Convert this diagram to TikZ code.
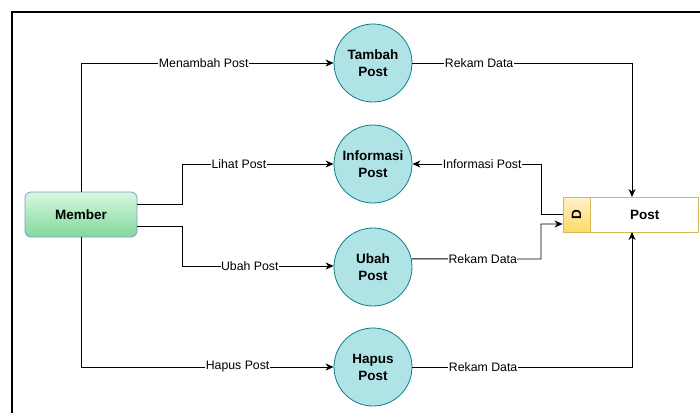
\documentclass[tikz,border=0pt]{standalone}
\usepackage{fontspec}
\setmainfont{Liberation Sans}
\usetikzlibrary{calc,arrows.meta,positioning}
\definecolor{procfill}{HTML}{B0E3E6}
\definecolor{procline}{HTML}{0E8088}
\definecolor{entline}{HTML}{7F9FC4}
\definecolor{enttop}{HTML}{DAF7E0}
\definecolor{entbot}{HTML}{80D99C}
\definecolor{storeline}{HTML}{D6B656}
\definecolor{storetop}{HTML}{FFF2CC}
\definecolor{storebot}{HTML}{FFD966}
\newcommand{\lblfont}{\fontsize{12.3}{14}\selectfont}
\newcommand{\boxfont}{\bfseries\fontsize{13.5}{17}\selectfont}

\begin{document}
\begin{tikzpicture}[%
    x=1pt,y=-1pt,%
    flux/.style={draw=black, line width=0.9pt, -{Stealth[length=8pt,width=7pt,inset=2.5pt]}},%
    lien/.style={draw=black, line width=0.9pt},%
    lbl/.style={fill=white, inner sep=0.5pt, font=\lblfont},%
    proc/.style={circle, draw=procline, fill=procfill, line width=0.8pt, minimum size=78pt, inner sep=0pt, align=center, font=\boxfont},%
    entite/.style={rectangle, rounded corners=6pt, draw=entline, line width=0.8pt, top color=enttop, bottom color=entbot, minimum width=112pt, minimum height=45pt, font=\boxfont},%
    stock/.style={rectangle, draw=storeline, line width=0.8pt, minimum height=35pt, inner sep=0pt, font=\boxfont}%
    ]
    \useasboundingbox (0,0) rectangle (700,413);

    %
    % Définitions
    %
    \pgfmathsetmacro{\xm}{81};%
    \pgfmathsetmacro{\xa}{182};%
    \pgfmathsetmacro{\xc}{373};%
    \pgfmathsetmacro{\xd}{541};%
    \pgfmathsetmacro{\xp}{632};%
    \pgfmathsetmacro{\yt}{63};%
    \pgfmathsetmacro{\yi}{164};%
    \pgfmathsetmacro{\yu}{267};%
    \pgfmathsetmacro{\yh}{367};%
    \pgfmathsetmacro{\ys}{214.5};%

    % Cadre
    \draw[line width=2.5pt] (12,413) -- (12,12) -- (700,12);

    % Entité
    \node[entite] (member) at (\xm,\ys) {Member};

    % Processus
    \node[proc] (tambah) at (\xc,\yt) {Tambah\\Post};
    \node[proc] (info) at (\xc,\yi) {Informasi\\Post};
    \node[proc] (ubah) at (\xc,\yu) {Ubah\\Post};
    \node[proc] (hapus) at (\xc,\yh) {Hapus\\Post};

    % Stockage
    \node[stock, minimum width=27pt, top color=storetop, bottom color=storebot] (postd) at (576.5,\ys) {\rotatebox{90}{D}};
    \node[stock, minimum width=108pt, fill=white, right=0pt of postd] (post) {Post};
    \coordinate (posttop) at (\xp,197);
    \coordinate (postbot) at (\xp,232);

    % Flux entrants
    \draw[flux] (member.north) |- node[lbl, pos=0.743] {Menambah Post} (tambah.west);
    \draw[flux] ([yshift=10pt]member.east) -| (\xa,\yi) -- node[lbl, pos=0.375] {Lihat Post} (info.west);
    \draw[flux] ([yshift=-12pt]member.east) -| (\xa,266) -- node[lbl, pos=0.447] {Ubah Post} (ubah.west |- 0,266);
    \draw[flux] (member.south) |- node[lbl, pos=0.81] {Hapus Post} (hapus.west);

    % Flux vers le stockage
    \draw[flux] (tambah.east) -| node[lbl, pos=0.152] {Rekam Data} (posttop);
    \draw[flux] (postd.west) -| (\xd,\yi) -- node[lbl, pos=0.457] {Informasi Post} (info.east);
    \draw[flux] (ubah.12) -- node[lbl, pos=0.55] {Rekam Data} (\xd,259) |- ([yshift=-9.5pt]postd.west);
    \draw[flux] (hapus.east) -| node[lbl, pos=0.161] {Rekam Data} (postbot);

\end{tikzpicture}
\end{document}
